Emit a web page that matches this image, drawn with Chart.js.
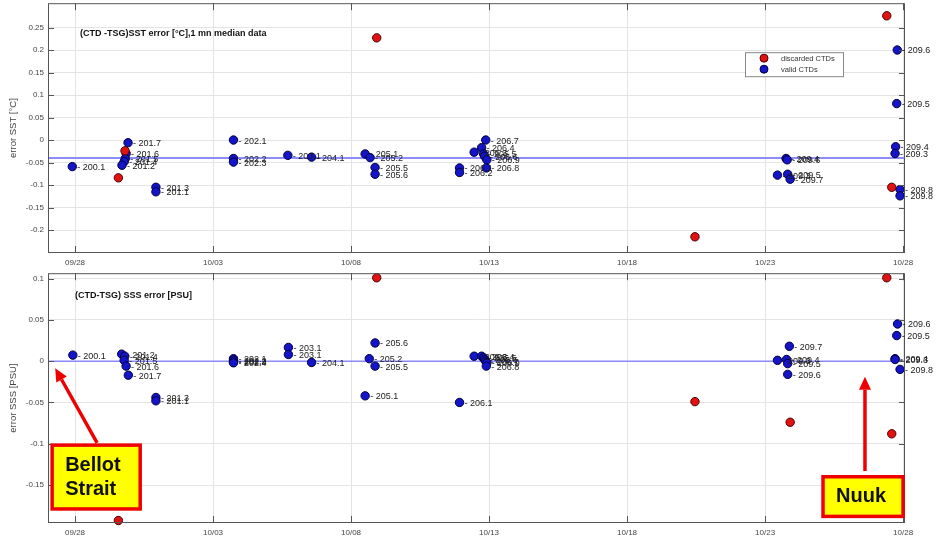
<!DOCTYPE html>
<html>
<head>
<meta charset="utf-8">
<script src="https://cdn.jsdelivr.net/npm/chart.js@4"></script>
<style>
  html,body{margin:0;padding:0;background:#fff;}
  #wrap{position:relative;width:937px;height:543px;overflow:hidden;}
  canvas{position:absolute;left:0;}
  #c1{top:0;}
  #c2{top:272px;}
</style>
</head>
<body>
<div id="wrap">
  <canvas id="c1" width="937" height="272"></canvas>
  <canvas id="c2" width="937" height="271"></canvas>
</div>
<script>
// x values = days since 09/28
const xTickDays = [0, 5, 10, 15, 20, 25, 30];
const xTickLabels = ['09/28', '10/03', '10/08', '10/13', '10/18', '10/23', '10/28'];
const xMin = -0.98, xMax = 30.07;

const sstTicks = [-0.2, -0.15, -0.1, -0.05, 0, 0.05, 0.1, 0.15, 0.2, 0.25];
const sstMin = -0.251, sstMax = 0.304;
const sstMedian = -0.04;

const sssTicks = [-0.15, -0.1, -0.05, 0, 0.05, 0.1];
const sssMin = -0.196, sssMax = 0.1065;
const sssMedian = 0.0;

// SST (CTD - TSG), valid CTDs
const sstValidX = [-0.10, 1.92, 1.85, 1.82, 1.78, 1.70, 2.93, 2.93, 5.74, 5.74, 5.74, 7.71, 8.57, 10.51, 10.69, 10.87, 10.87,
  13.93, 13.93, 14.88, 14.46, 14.73, 14.80, 14.84, 14.92, 14.90, 25.45, 25.76, 25.80, 25.82, 25.91, 29.79, 29.77, 29.73, 29.71, 29.89, 29.89];
const sstValidY = [-0.059, -0.006, -0.030, -0.041, -0.048, -0.056, -0.105, -0.115, 0.000, -0.041, -0.049, -0.034, -0.038, -0.031, -0.039, -0.061, -0.076,
  -0.062, -0.072, 0.000, -0.027, -0.017, -0.031, -0.036, -0.044, -0.062, -0.078, -0.041, -0.044, -0.076, -0.087, 0.200, 0.081, -0.015, -0.030, -0.110, -0.124];
const sstValidLbl = ['200.1', '201.7', '201.6', '201.5', '201.4', '201.2', '201.3', '201.1', '202.1', '202.2', '202.3', '203.1', '204.1', '205.1', '205.2', '205.5', '205.6',
  '206.1', '206.2', '206.7', '206.3', '206.4', '206.5', '206.6', '206.9', '206.8', '209.3', '209.4', '209.6', '209.5', '209.7', '209.6', '209.5', '209.4', '209.3', '209.8', '209.8'];
// SST discarded CTDs
const sstDiscX = [1.81, 1.57, 10.93, 22.46, 29.41, 29.59];
const sstDiscY = [-0.024, -0.084, 0.227, -0.215, 0.276, -0.105];

// SSS (CTD - TSG), valid CTDs
const sssValidX = [-0.08, 1.69, 1.80, 1.78, 1.85, 1.93, 2.93, 2.93, 5.74, 5.74, 5.74, 5.74, 7.73, 7.73, 8.57, 10.87, 10.66, 10.87, 10.51,
  13.93, 14.46, 14.73, 14.80, 14.84, 14.88, 14.92, 14.90, 25.45, 25.78, 25.82, 25.82, 25.88, 29.80, 29.77, 29.71, 29.71, 29.89];
const sssValidY = [0.0073, 0.0085, 0.006, 0.001, -0.006, -0.017, -0.044, -0.048, 0.003, 0.001, -0.001, -0.002, 0.0166, 0.008, -0.0016, 0.022, 0.003, -0.006, -0.042,
  -0.050, 0.006, 0.006, 0.004, 0.002, 0.000, -0.002, -0.006, 0.001, 0.002, -0.003, -0.016, 0.018, 0.045, 0.031, 0.003, 0.002, -0.010];
const sssValidLbl = ['200.1', '201.2', '201.4', '201.5', '201.6', '201.7', '201.3', '201.1', '202.1', '202.2', '202.3', '202.4', '203.1', '203.1', '204.1', '205.6', '205.2', '205.5', '205.1',
  '206.1', '206.3', '206.4', '206.5', '206.6', '206.7', '206.9', '206.8', '209.3', '209.4', '209.5', '209.6', '209.7', '209.6', '209.5', '209.4', '209.3', '209.8'];
// SSS discarded CTDs
const sssDiscX = [1.57, 10.93, 22.46, 25.91, 29.41, 29.59];
const sssDiscY = [-0.193, 0.101, -0.049, -0.074, 0.101, -0.088];

// call-out boxes on the SSS panel (data coords)
const notes = [
  {lines: ['Bellot', 'Strait'], box: [-0.83, 2.36, -0.1017, -0.179], from: [0.80, -0.099], to: [-0.72, -0.0085]},
  {lines: ['Nuuk'], box: [27.1, 30.0, -0.140, -0.188], from: [28.62, -0.133], to: [28.62, -0.019]}
];

const FONT = "'Liberation Sans', Arial, sans-serif";
const pts = (xs, ys) => xs.map((x, i) => ({x, y: ys[i]}));

const panelPlugin = {
  id: 'panel',
  afterDatasetsDraw(chart, args, o) {
    const ctx = chart.ctx, ca = chart.chartArea;
    const sx = chart.scales.x, sy = chart.scales.y;
    ctx.save();
    // box + inward ticks
    ctx.strokeStyle = '#555'; ctx.lineWidth = 1;
    ctx.strokeRect(ca.left + 0.5, ca.top + 0.5, ca.right - ca.left - 1, ca.bottom - ca.top - 1);
    ctx.beginPath();
    xTickDays.forEach(v => {
      const px = Math.round(sx.getPixelForValue(v)) + 0.5;
      ctx.moveTo(px, ca.bottom); ctx.lineTo(px, ca.bottom - 7);
      ctx.moveTo(px, ca.top); ctx.lineTo(px, ca.top + 7);
    });
    o.ticks.forEach(v => {
      const py = Math.round(sy.getPixelForValue(v)) + 0.5;
      ctx.moveTo(ca.left, py); ctx.lineTo(ca.left + 6, py);
      ctx.moveTo(ca.right, py); ctx.lineTo(ca.right - 6, py);
    });
    ctx.stroke();

    // station labels
    ctx.font = '9px ' + FONT; ctx.fillStyle = '#1a1a1a'; ctx.textBaseline = 'middle'; ctx.textAlign = 'left';
    const meta = chart.getDatasetMeta(1);
    meta.data.forEach((el, i) => ctx.fillText('- ' + o.labels[i], el.x + 5, el.y + 1));

    // panel title
    ctx.font = 'bold 9px ' + FONT; ctx.fillStyle = '#111';
    ctx.fillText(o.title, ca.left + o.tdx, ca.top + o.tdy);

    // legend
    if (o.legend) {
      const bx = ca.right - 160, by = ca.top + 49, bw = 98, bh = 24;
      ctx.fillStyle = '#fff'; ctx.fillRect(bx, by, bw, bh);
      ctx.strokeStyle = '#888'; ctx.strokeRect(bx + 0.5, by + 0.5, bw, bh);
      chart.data.datasets.slice(0, 2).forEach((ds, i) => {
        const cy = by + 6 + i * 11;
        ctx.beginPath(); ctx.arc(bx + 19, cy, 4, 0, Math.PI * 2);
        ctx.fillStyle = ds.backgroundColor; ctx.fill();
        ctx.strokeStyle = ds.borderColor; ctx.stroke();
        ctx.fillStyle = '#333'; ctx.font = '7.5px ' + FONT;
        ctx.fillText(ds.label, bx + 36, cy + 0.5);
      });
    }

    // call-outs
    (o.notes || []).forEach(n => {
      const x0 = sx.getPixelForValue(n.box[0]), x1 = sx.getPixelForValue(n.box[1]);
      const y0 = sy.getPixelForValue(n.box[2]), y1 = sy.getPixelForValue(n.box[3]);
      ctx.fillStyle = '#ffff00'; ctx.fillRect(x0, y0, x1 - x0, y1 - y0);
      ctx.strokeStyle = '#ee0000'; ctx.lineWidth = 3.5; ctx.strokeRect(x0, y0, x1 - x0, y1 - y0);
      ctx.fillStyle = '#111'; ctx.font = 'bold 20px ' + FONT; ctx.textBaseline = 'middle';
      n.lines.forEach((t, i) => ctx.fillText(t, x0 + 13, y0 + 20 + i * 24));
      const fx = sx.getPixelForValue(n.from[0]), fy = sy.getPixelForValue(n.from[1]);
      const tx = sx.getPixelForValue(n.to[0]), ty = sy.getPixelForValue(n.to[1]);
      const a = Math.atan2(ty - fy, tx - fx), hl = 13, hw = 6;
      const bxh = tx - hl * Math.cos(a), byh = ty - hl * Math.sin(a);
      ctx.strokeStyle = '#ee0000'; ctx.lineWidth = 3.5;
      ctx.beginPath(); ctx.moveTo(fx, fy); ctx.lineTo(bxh, byh); ctx.stroke();
      ctx.fillStyle = '#ee0000';
      ctx.beginPath(); ctx.moveTo(tx, ty);
      ctx.lineTo(bxh + hw * Math.sin(a), byh - hw * Math.cos(a));
      ctx.lineTo(bxh - hw * Math.sin(a), byh + hw * Math.cos(a));
      ctx.closePath(); ctx.fill();
    });
    ctx.restore();
  }
};

function makePanel(id, p) {
  const canvas = document.getElementById(id);
  const chart = new Chart(canvas, {
    type: 'scatter',
    data: {
      datasets: [
        {label: 'discarded CTDs', data: pts(p.discX, p.discY), backgroundColor: '#e31212', borderColor: '#4a0000',
         borderWidth: 1, pointRadius: 4.2, clip: false},
        {label: 'valid CTDs', data: pts(p.validX, p.validY), backgroundColor: '#1414c8', borderColor: '#000040',
         borderWidth: 1, pointRadius: 4.2, clip: false},
        {type: 'line', label: 'median', data: [{x: xMin, y: p.median}, {x: xMax, y: p.median}],
         borderColor: p.lineColor, borderWidth: p.lineWidth, pointRadius: 0}
      ]
    },
    options: {
      responsive: false, maintainAspectRatio: false, animation: false, events: [],
      layout: {padding: {top: 0, right: 32, left: 0, bottom: 0}},
      plugins: {
        legend: {display: false}, tooltip: {enabled: false},
        panel: {ticks: p.ticks, labels: p.labels, title: p.title, tdx: p.tdx, tdy: p.tdy, legend: p.legend, notes: p.notes}
      },
      scales: {
        x: {
          type: 'linear', min: xMin, max: xMax,
          afterBuildTicks: s => { s.ticks = xTickDays.map(v => ({value: v})); },
          afterFit: s => { s.height = p.xHeight; s.paddingLeft = 0; s.paddingRight = 0; },
          grid: {color: '#e4e4e4', drawTicks: false},
          border: {display: false},
          ticks: {autoSkip: false, maxRotation: 0, padding: 5, color: '#444', font: {family: FONT, size: 8},
                  callback: v => xTickLabels[xTickDays.indexOf(v)] || ''}
        },
        y: {
          min: p.min, max: p.max,
          afterBuildTicks: s => { s.ticks = p.ticks.map(v => ({value: v})); },
          afterFit: s => { s.width = 48; s.paddingTop = 0; s.paddingBottom = 0; },
          grid: {color: '#e4e4e4', drawTicks: false},
          border: {display: false},
          ticks: {padding: 4, color: '#444', font: {family: FONT, size: 8}, callback: v => String(v)},
          title: {display: true, text: p.yTitle, color: '#444', font: {family: FONT, size: 9.5}, padding: {top: 8, bottom: 0}}
        }
      }
    },
    plugins: [panelPlugin]
  });
  // line the plot box up with the reference frame
  const top = Math.round(p.areaTop - chart.chartArea.top);
  canvas.style.top = top + 'px';
  chart.resize(937, Math.round(p.areaBottom - top + p.xHeight));
  return chart;
}

makePanel('c1', {
  validX: sstValidX, validY: sstValidY, labels: sstValidLbl, discX: sstDiscX, discY: sstDiscY,
  ticks: sstTicks, min: sstMin, max: sstMax, median: sstMedian, lineColor: '#8c8cff', lineWidth: 2,
  yTitle: 'error SST [°C]', title: '(CTD -TSG)SST error [°C],1 mn median data', tdx: 32, tdy: 30,
  legend: true, areaTop: 3, areaBottom: 253, xHeight: 19
});
makePanel('c2', {
  validX: sssValidX, validY: sssValidY, labels: sssValidLbl, discX: sssDiscX, discY: sssDiscY,
  ticks: sssTicks, min: sssMin, max: sssMax, median: sssMedian, lineColor: '#5a5aff', lineWidth: 1,
  yTitle: 'error SSS [PSU]', title: '(CTD-TSG) SSS error [PSU]', tdx: 27, tdy: 22,
  legend: false, notes: notes, areaTop: 273, areaBottom: 523, xHeight: 20
});
</script>
</body>
</html>
